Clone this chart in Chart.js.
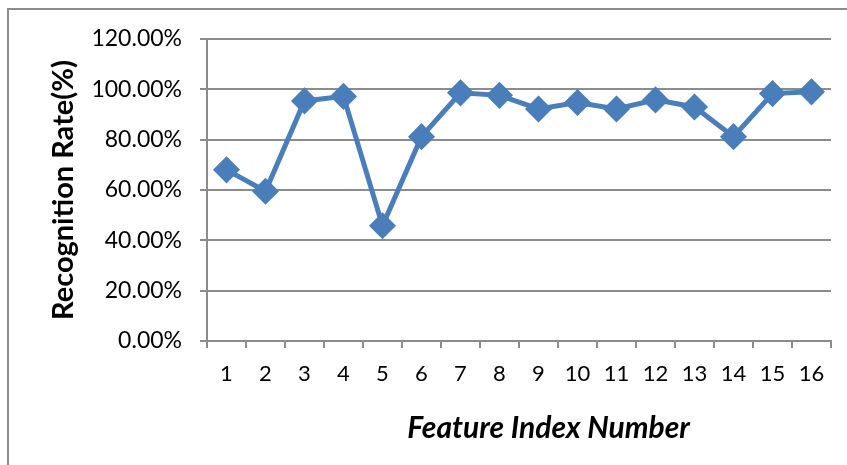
<!DOCTYPE html>
<html>
<head>
<meta charset="utf-8">
<script src="https://cdn.jsdelivr.net/npm/chart.js@4"></script>
<style>
  html, body { margin: 0; padding: 0; background: #fff; }
  #wrap { position: relative; width: 847px; height: 465px; }
  #frame { position: absolute; left: 7px; top: 8px; width: 860px; height: 480px; border: 2px solid #8c8c8c; box-sizing: border-box; }
  canvas { position: absolute; left: 0; top: 0; }
</style>
</head>
<body>
<div id="wrap">
  <div id="frame"></div>
  <canvas id="chart" width="847" height="465"></canvas>
</div>
<script>
// ========================== DATA ==========================
const featureIndex = ["1", "2", "3", "4", "5", "6", "7", "8", "9", "10", "11", "12", "13", "14", "15", "16"];
const recognitionRate = [68.0, 59.5, 95.4, 97.2, 45.8, 81.2, 98.6, 97.6, 92.2, 94.8, 92.2, 95.8, 93.0, 81.2, 98.3, 99.0];
const yTicks = [0, 20, 40, 60, 80, 100, 120];

const font = "Lato, Open Sans, sans-serif";
const gridGray = "#8c8c8c";

// ========================== CHART ==========================
new Chart(document.getElementById("chart"), {
  type: "line",
  data: {
    labels: featureIndex,
    datasets: [{
      data: recognitionRate,
      borderColor: "#4a7ebb",
      backgroundColor: "#4a7ebb",
      borderWidth: 5,
      pointStyle: "rectRot",
      pointRadius: 10,
      pointHoverRadius: 10,
      tension: 0
    }]
  },
  options: {
    responsive: false,
    animation: false,
    layout: { padding: { left: 46, right: 16, top: 39, bottom: 10 } },
    plugins: { legend: { display: false }, tooltip: { enabled: false } },
    scales: {
      x: {
        offset: true,
        grid: { display: true, drawOnChartArea: false, offset: true, color: gridGray, lineWidth: 2, tickLength: 7 },
        border: { color: gridGray, width: 2 },
        ticks: { color: "#000", font: { family: font, size: 22 }, padding: 13, maxRotation: 0, autoSkip: false },
        title: {
          display: true,
          // leading spaces shift the centred title right, as in the original
          text: "         Feature Index Number",
          color: "#000",
          font: { family: font, size: 30, weight: "bold", style: "italic" },
          padding: { top: 18, bottom: 9 }
        },
        afterFit: s => { s.height = 114; }
      },
      y: {
        min: 0,
        max: 120,
        afterBuildTicks: s => { s.ticks = yTicks.map(v => ({ value: v })); },
        grid: { color: gridGray, lineWidth: 2, tickLength: 7 },
        border: { color: gridGray, width: 2 },
        ticks: {
          color: "#000",
          font: { family: font, size: 23 },
          padding: 18,
          callback: v => v.toFixed(2) + "%"
        },
        title: {
          display: true,
          text: "Recognition Rate(%)",
          color: "#000",
          font: { family: font, size: 29, weight: "bold" },
          padding: { top: 0, bottom: 2 }
        },
        afterFit: s => { s.width = 161; }
      }
    }
  }
});
</script>
</body>
</html>
